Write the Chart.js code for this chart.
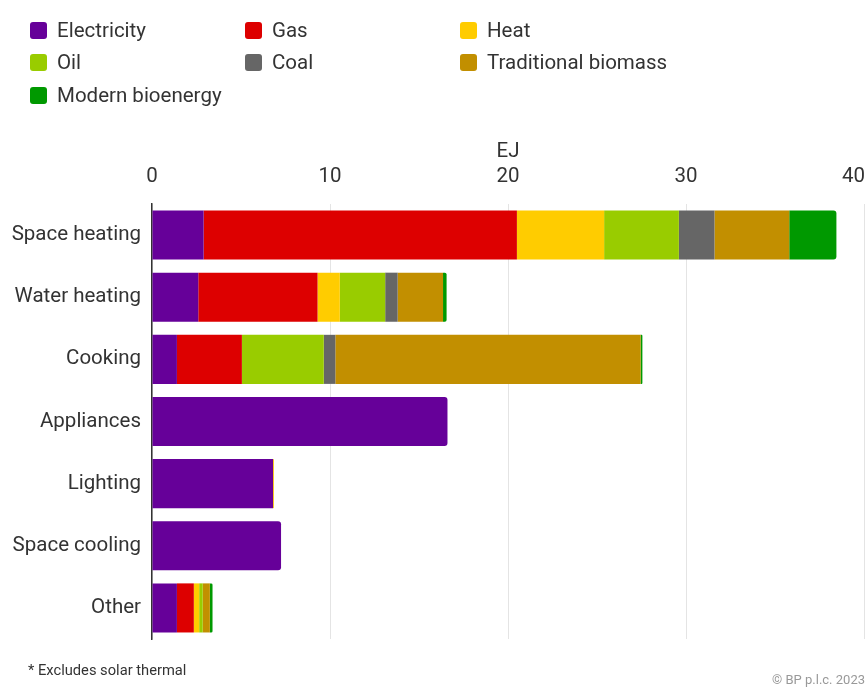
<!DOCTYPE html>
<html>
<head>
<meta charset="utf-8">
<script src="https://cdn.jsdelivr.net/npm/chart.js@4/dist/chart.umd.min.js"></script>
<style>
  html, body { margin: 0; padding: 0; background: #fff; }
  body { width: 868px; height: 687px; position: relative; overflow: hidden; font-family: Roboto, "Noto Sans", sans-serif; }
  #chart { position: absolute; left: 0; top: 0; }
  #legend { position: absolute; left: 0; top: 0; width: 868px; height: 120px; z-index: 2; }
  .li { position: absolute; display: flex; align-items: center; font-size: 20.5px; color: #333; white-space: nowrap; }
  .sw { width: 17px; height: 17px; border-radius: 3px; margin-right: 10px; }
  #note { position: absolute; left: 28px; top: 661px; font-size: 14.7px; color: #333; }
  #copy { position: absolute; right: 3px; top: 672px; font-size: 13px; color: #999; }
</style>
</head>
<body>
<canvas id="chart" width="868" height="687"></canvas>
<div id="legend"></div>
<div id="note">* Excludes solar thermal</div>
<div id="copy">© BP p.l.c. 2023</div>
<script>
const categories = ['Space heating', 'Water heating', 'Cooking', 'Appliances', 'Lighting', 'Space cooling', 'Other'];
const seriesNames = ['Electricity', 'Gas', 'Heat', 'Oil', 'Coal', 'Traditional biomass', 'Modern bioenergy'];
const seriesColors = ['#660099', '#dd0000', '#ffcc00', '#99cc00', '#666666', '#c28f00', '#009900'];
const electricity  = [2.9, 2.6, 1.4, 16.6, 6.8, 7.25, 1.4];
const gas          = [17.6, 6.7, 3.65, 0, 0, 0, 0.95];
const heat         = [4.9, 1.25, 0, 0, 0.05, 0, 0.3];
const oil          = [4.2, 2.55, 4.6, 0, 0, 0, 0.2];
const coal         = [2.0, 0.7, 0.65, 0, 0, 0, 0];
const tradBiomass  = [4.2, 2.55, 17.15, 0, 0, 0, 0.4];
const modernBio    = [2.65, 0.2, 0.1, 0, 0, 0, 0.15];
const xTicks       = [0, 10, 20, 30, 40];
const axisTitle    = 'EJ';

const seriesValues = [electricity, gas, heat, oil, coal, tradBiomass, modernBio];

// HTML legend (3 columns)
const legend = document.getElementById('legend');
const colX = [30, 245, 460];
const rowY = [30, 62, 95];
seriesNames.forEach((name, i) => {
  const d = document.createElement('div');
  d.className = 'li';
  d.style.left = colX[i % 3] + 'px';
  d.style.top = (rowY[Math.floor(i / 3)] - 12) + 'px';
  d.style.height = '24px';
  d.innerHTML = '<span class="sw" style="background:' + seriesColors[i] + '"></span><span>' + name + '</span>';
  legend.appendChild(d);
});

const datasets = seriesNames.map((name, i) => ({
  label: name,
  data: seriesValues[i],
  backgroundColor: seriesColors[i],
  borderWidth: 0,
  borderRadius: 3,
  barPercentage: 0.79,
  categoryPercentage: 1.0
}));

new Chart(document.getElementById('chart'), {
  type: 'bar',
  data: { labels: categories, datasets: datasets },
  options: {
    indexAxis: 'y',
    responsive: false,
    animation: false,
    layout: { padding: { top: 140, right: 4, bottom: 48, left: 0 } },
    plugins: { legend: { display: false }, tooltip: { enabled: false } },
    scales: {
      x: {
        position: 'top',
        stacked: true,
        min: 0, max: 40,
        afterBuildTicks: (s) => { s.ticks = xTicks.map(v => ({ value: v })); },
        afterFit: (s) => { s.height = 64; s.paddingRight = 0; s.paddingLeft = 0; },
        title: { display: true, text: axisTitle, color: '#333', font: { family: 'Roboto', size: 20.5 }, padding: { top: 0, bottom: 0 } },
        ticks: {
          color: '#333', font: { family: 'Roboto', size: 20.5 }, padding: 15, maxRotation: 0,
          callback: (v) => (v === 40 ? '40\u2002\u2002' : String(v))
        },
        grid: { color: '#e4e4e4', lineWidth: 1, drawTicks: false },
        border: { display: false }
      },
      y: {
        stacked: true,
        afterFit: (s) => { s.width = 152; },
        ticks: { color: '#333', font: { family: 'Roboto', size: 20.5 }, padding: 11 },
        grid: { display: false, drawTicks: false },
        border: { display: true, color: '#333', width: 1.5 }
      }
    }
  }
});
</script>
</body>
</html>
